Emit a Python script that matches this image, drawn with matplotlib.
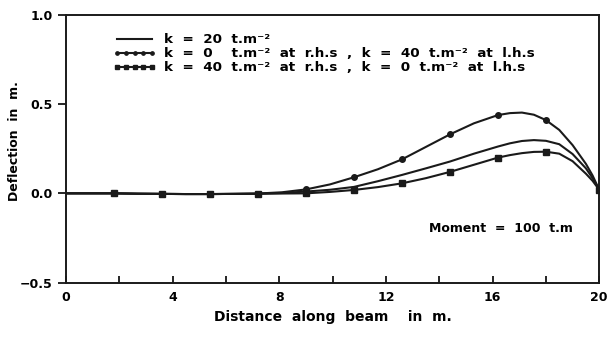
import matplotlib
matplotlib.use("Agg")
import matplotlib.pyplot as plt
from matplotlib.ticker import MultipleLocator

# distance along beam (m)
x = [0.0, 0.9, 1.8, 2.7, 3.6, 4.5, 5.4, 6.3, 7.2, 8.1, 9.0, 9.9, 10.8, 11.7,
     12.6, 13.5, 14.4, 15.3, 16.2, 16.65, 17.1, 17.55, 18.0, 18.5, 19.0, 19.5, 19.75, 20.0]

# k = 0 at r.h.s , k = 40 at l.h.s  (dots)
defl_dots = [0.0, 0.0, 0.0, -0.002, -0.003, -0.004, -0.004, -0.003, -0.001, 0.006, 0.022,
             0.05, 0.09, 0.135, 0.19, 0.26, 0.33, 0.392, 0.438, 0.449, 0.452, 0.44, 0.41,
             0.355, 0.27, 0.165, 0.1, 0.02]
# k = 20 everywhere (plain line)
defl_k20 = [0.0, 0.0, 0.0, -0.002, -0.003, -0.004, -0.004, -0.003, -0.002, 0.002, 0.01,
            0.02, 0.036, 0.068, 0.103, 0.14, 0.178, 0.222, 0.262, 0.28, 0.293, 0.298, 0.294,
            0.275, 0.22, 0.14, 0.085, 0.02]
# k = 40 at r.h.s , k = 0 at l.h.s  (squares)
defl_sq = [0.0, 0.0, 0.0, -0.002, -0.003, -0.004, -0.004, -0.003, -0.002, -0.001, 0.0,
           0.008, 0.019, 0.035, 0.056, 0.085, 0.12, 0.16, 0.2, 0.214, 0.225, 0.232, 0.233,
           0.222, 0.18, 0.11, 0.07, 0.02]

# marker positions (every 1.8 m + beam end)
mark_x = [1.8, 3.6, 5.4, 7.2, 9.0, 10.8, 12.6, 14.4, 16.2, 18.0, 20.0]
mark_idx = [x.index(v) for v in mark_x]

lab_k20 = "k  =  20  t.m⁻²"
lab_dots = "k  =  0    t.m⁻²  at  r.h.s  ,  k  =  40  t.m⁻²  at  l.h.s"
lab_sq = "k  =  40  t.m⁻²  at  r.h.s  ,  k  =  0  t.m⁻²  at  l.h.s"

plt.rcParams['font.family'] = ['DejaVu Sans']
plt.rcParams['font.weight'] = 'bold'

fig = plt.figure(figsize=(6.08, 3.41), dpi=100)
ax = fig.add_axes([0.1086, 0.171, 0.877, 0.786])

col = '#1a1a1a'
ax.plot(x, defl_k20, color=col, lw=1.5, label=lab_k20)
ax.plot(x, defl_dots, color=col, lw=1.5, marker='o', ms=4,
        markevery=mark_idx, label=lab_dots)
ax.plot(x, defl_sq, color=col, lw=1.5, marker='s', ms=5,
        markevery=mark_idx, label=lab_sq)

ax.set_xlim(0, 20)
ax.set_ylim(-0.5, 1.0)
ax.xaxis.set_major_locator(MultipleLocator(4))
ax.xaxis.set_minor_locator(MultipleLocator(2))
ax.yaxis.set_major_locator(MultipleLocator(0.5))
ax.tick_params(axis='x', which='both', direction='in', length=5, width=1.2,
               labelsize=9, pad=6)
ax.tick_params(axis='y', which='major', direction='out', length=6, width=1.2,
               labelsize=9)
for s in ax.spines.values():
    s.set_linewidth(1.4)
    s.set_color(col)

ax.set_xlabel("Distance  along  beam    in  m.", fontsize=10, fontweight='bold')
ax.set_ylabel("Deflection  in  m.", fontsize=9, fontweight='bold')
ax.yaxis.set_label_coords(-0.085, 0.53)

leg = ax.legend(loc='upper left', bbox_to_anchor=(0.088, 0.93), frameon=False,
                numpoints=5, markerscale=0.6, fontsize=9.7, handlelength=3.2,
                handletextpad=0.6, labelspacing=0.07, borderaxespad=0,
                borderpad=0)

ax.text(0.68, 0.19, "Moment  =  100  t.m", transform=ax.transAxes,
        fontsize=9, fontweight='bold')

fig.savefig("out.png", dpi=100)
